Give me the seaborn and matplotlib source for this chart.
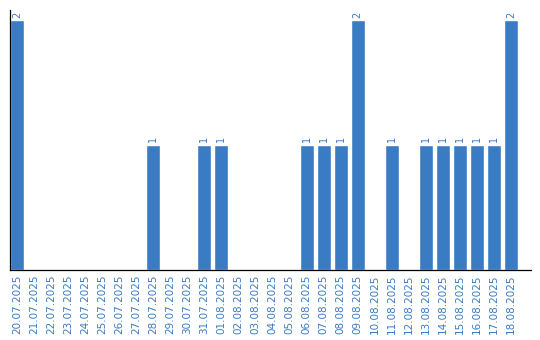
import matplotlib
matplotlib.use("Agg")
import matplotlib.pyplot as plt
import seaborn as sns
import pandas as pd

dates = ["20.07.2025", "21.07.2025", "22.07.2025", "23.07.2025", "24.07.2025",
         "25.07.2025", "26.07.2025", "27.07.2025", "28.07.2025", "29.07.2025",
         "30.07.2025", "31.07.2025", "01.08.2025", "02.08.2025", "03.08.2025",
         "04.08.2025", "05.08.2025", "06.08.2025", "07.08.2025", "08.08.2025",
         "09.08.2025", "10.08.2025", "11.08.2025", "12.08.2025", "13.08.2025",
         "14.08.2025", "15.08.2025", "16.08.2025", "17.08.2025", "18.08.2025"]
counts = [2, 0, 0, 0, 0, 0, 0, 0, 1, 0,
          0, 1, 1, 0, 0, 0, 0, 1, 1, 1,
          2, 0, 1, 0, 1, 1, 1, 1, 1, 2]

blue = "#3a7cc3"
sns.set_style("white")
plt.rcParams['font.family'] = ['DejaVu Sans']

df = pd.DataFrame({"date": dates, "count": counts})
fig = plt.figure(figsize=(5.4, 3.4), dpi=100)
ax = fig.add_axes([10/540, 1-270/340, 521/540, 260/340])
sns.barplot(data=df, x="date", y="count", color=blue, saturation=1, width=0.82, ax=ax)

for i, v in enumerate(counts):
    if v > 0:
        ax.text(i, v + 0.02, str(v), rotation=90, ha="center", va="bottom",
                color=blue, fontsize=7)

ax.set_xlim(-0.41, 30.18)
ax.set_ylim(0, 2.08)
ax.set_xlabel("")
ax.set_ylabel("")
ax.set_yticks([])
ax.tick_params(axis="x", length=0, pad=3, labelsize=7.5, labelcolor=blue, rotation=90)
for s in ["top", "right"]:
    ax.spines[s].set_visible(False)
for s in ["left", "bottom"]:
    ax.spines[s].set_color("black")
    ax.spines[s].set_linewidth(0.9)

fig.savefig("out.png", dpi=100)
